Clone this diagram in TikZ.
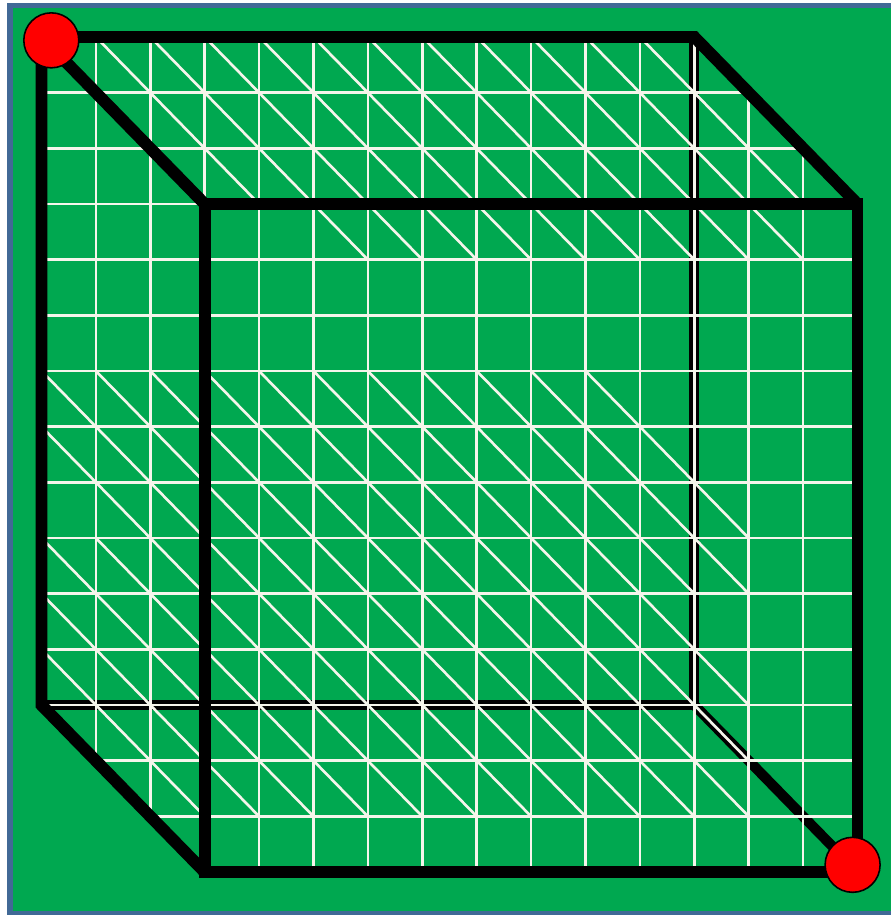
\documentclass[tikz,border=0pt]{standalone}
\usepackage{xcolor}
\usepackage{tikz}
\definecolor{board}{RGB}{0,168,80}
\definecolor{rim}{RGB}{65,105,150}
\definecolor{mesh}{RGB}{245,245,235}

\begin{document}
\begin{tikzpicture}[
  mline/.style={draw=mesh, line width=1.5pt},
  edge/.style={draw=black, line width=6.8pt, line join=miter},
  hidden/.style={draw=black, line width=5.8pt},
  dot/.style={circle, draw=black, line width=0.9pt, fill=red,
              minimum size=1.1cm, inner sep=0pt}
]

%% canvas
\useasboundingbox (0,0) rectangle (17.82,-18.3);
\fill[white] (0,0) rectangle (17.82,-18.3);
\draw[rim, fill=board, line width=0.11cm] (0.2,-0.11) rectangle (17.92,-18.27);

\begin{scope}[shift={(0.83,-0.74)}, x=1.088cm, y=-1.1134cm]

%% cube corners (back face / front face)
\coordinate (bnw) at (0,0);
\coordinate (bne) at (12,0);
\coordinate (bse) at (12,12);
\coordinate (bsw) at (0,12);
\coordinate (fnw) at (3,3);
\coordinate (fne) at (15,3);
\coordinate (fse) at (15,15);
\coordinate (fsw) at (3,15);

%% hidden edges, the mesh runs over them
\draw[hidden] (bne) -- (bse) -- (bsw);
\draw[hidden] (bse) -- (fse);

%% mesh rows
\draw[mline] (0,1) -- (13,1);
\draw[mline] (0,2) -- (14,2);
\draw[mline] (0,3) -- (3,3);
\foreach \j in {4,...,12}
  \draw[mline] (0,\j) -- (15,\j);
\draw[mline] (1,13) -- (15,13);
\draw[mline] (2,14) -- (15,14);

%% mesh columns
\draw[mline] (1,0) -- (1,13);
\draw[mline] (2,0) -- (2,14);
\draw[mline] (3,0) -- (3,3);
\foreach \i in {4,...,12}
  \draw[mline] (\i,0) -- (\i,15);
\draw[mline] (13,1) -- (13,15);
\draw[mline] (14,2) -- (14,15);

%% diagonals, top face
\draw[mline] (1,0) -- (4,3);
\foreach \k in {2,...,10}
  \draw[mline] (\k,0) -- ++(4,4);
\draw[mline] (11,0) -- (14,3);

%% diagonals, lower part
\foreach \p/\q in {{10,6}/{13,9}, {9,6}/{13,10}, {8,6}/{12,10},
                   {7,6}/{13,12}, {6,6}/{13,13}, {5,6}/{13,14},
                   {4,6}/{12,14}, {3,6}/{11,14}, {2,6}/{10,14},
                   {1,6}/{9,14},  {0,6}/{8,14},  {0,7}/{7,14},
                   {1,9}/{6,14},  {0,9}/{5,14},  {0,10}/{4,14},
                   {0,11}/{3,14}}
  \draw[mline] (\p) -- (\q);

%% visible edges
\draw[edge] (fnw) -- (fne) -- (fse) -- (fsw) -- cycle;
\draw[edge] (fsw) -- (bsw) -- (bnw) -- (bne) -- (fne);
\draw[edge] (bnw) -- (fnw);

%% end points
\node[dot] (src) at (0.18,0.06) {};
\node[dot] (dst) at (14.91,14.87) {};

\end{scope}
\end{tikzpicture}
\end{document}
